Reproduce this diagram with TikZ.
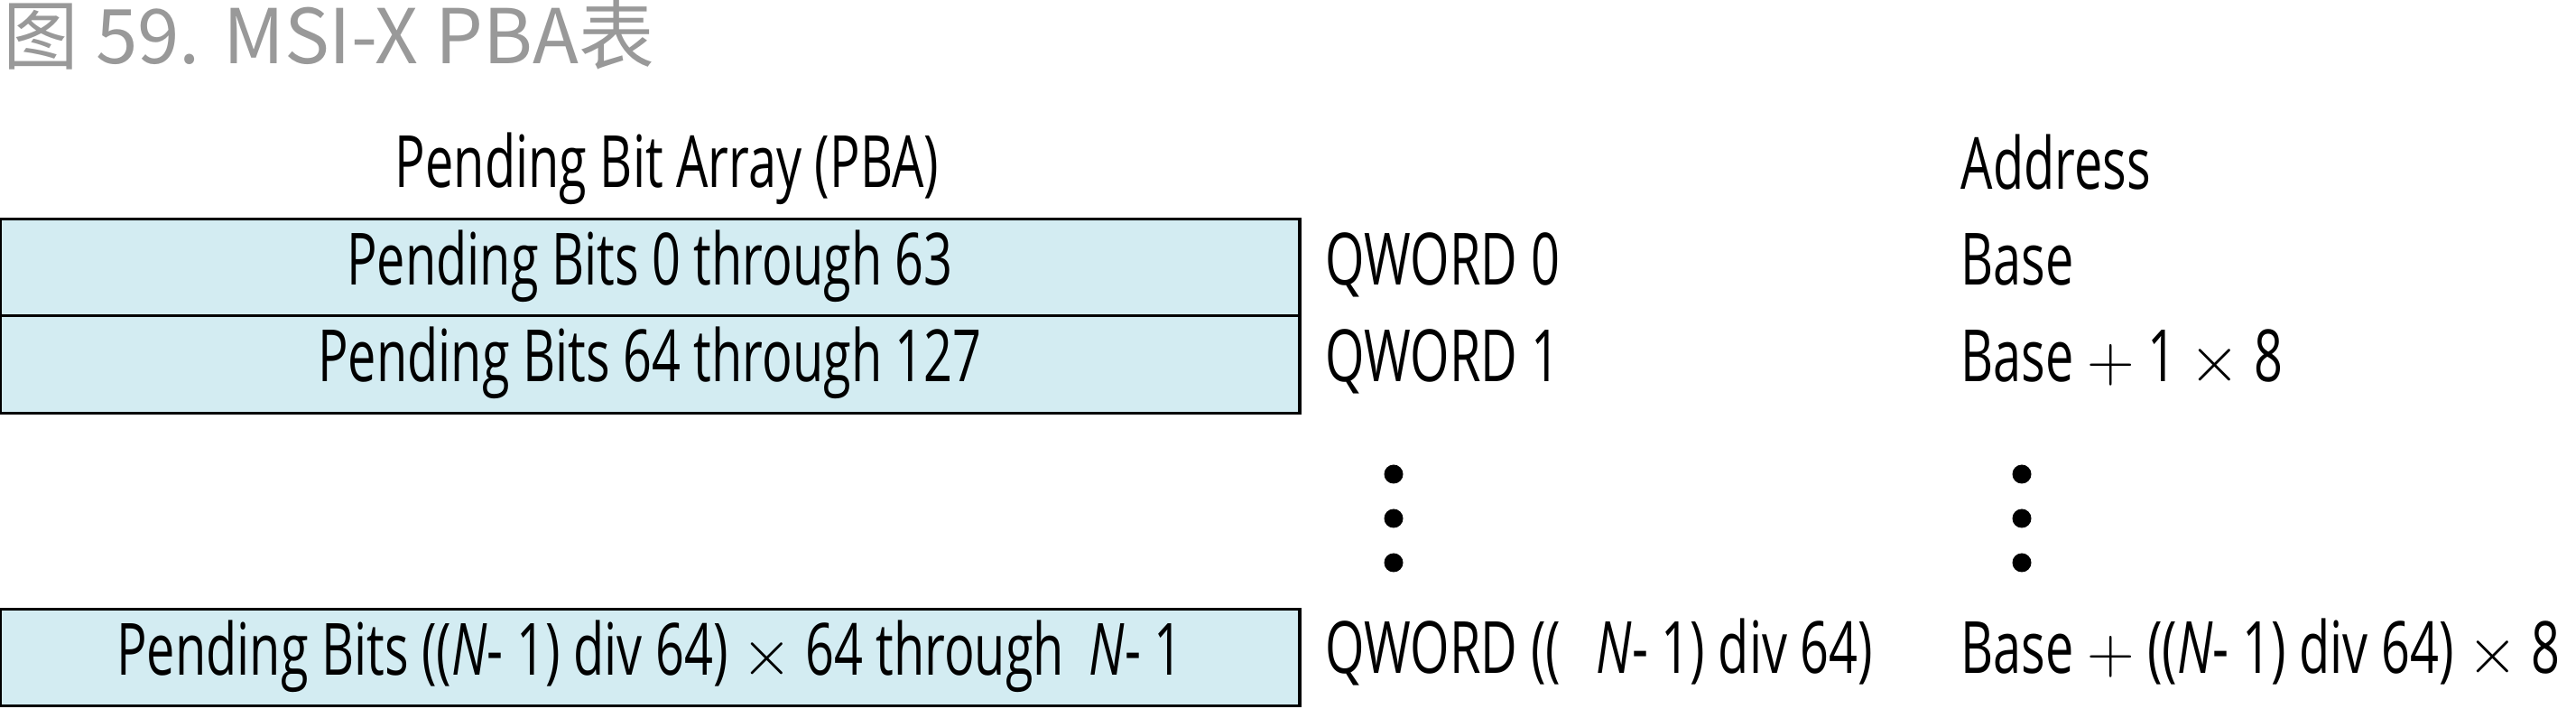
\documentclass[tikz,border=0pt]{standalone}
\usepackage{fontspec}
\setmainfont{Open Sans}[FakeStretch=0.70]
\newfontfamily\cjk{Noto Sans CJK SC}
\definecolor{pbablue}{RGB}{211,236,242}
\definecolor{capgray}{RGB}{153,153,153}
\newcommand{\tms}{\ensuremath{\times}}
\newcommand{\pls}{\ensuremath{+}}
\begin{document}
\begin{tikzpicture}[scale=0.1,
		txt/.style={font=\fontsize{22.7}{27}\selectfont, inner sep=0pt},
		lbl/.style={txt, anchor=base west},
		pbarow/.style={txt, draw=black, fill=pbablue, line width=0.9pt, minimum width=144mm, minimum height=10.75mm, text height=6mm, text depth=2.1mm},
		dot/.style={circle, fill=black, inner sep=0pt, minimum size=2.1mm}]
		
		\useasboundingbox (0,0) rectangle (285.4,-78.5);
		
		\node[anchor=base west, inner sep=0pt, text=capgray, font=\cjk\fontsize{23.8}{28}\selectfont] (cap) at (0.3,-7.1) {图 59. MSI-X PBA表};
		
		\node[txt, anchor=base] (pba) at (73.9,-20.8) {Pending Bit Array (PBA)};
		\node[lbl] (addr) at (217.2,-21.0) {Address};
		
		\node[pbarow] (row0) at (72,-29.6) {Pending Bits 0 through 63};
		\node[pbarow] (row1) at (72,-40.35) {Pending Bits 64 through 127};
		\node[pbarow] (rowN) at (72,-72.8) {Pending Bits ((\textit{N}- 1) div 64) \tms{} 64 through \,\textit{N}- 1};
		
		\node[lbl] (q0) at (146.8,-31.6) {QWORD 0};
		\node[lbl] (q1) at (146.8,-42.3) {QWORD 1};
		\node[lbl] (qN) at (146.8,-74.6) {QWORD ((\enspace\textit{N}- 1) div 64)};
		
		\node[lbl] (a0) at (217.2,-31.6) {Base};
		\node[lbl] (a1) at (217.2,-42.3) {Base \pls{} 1 \tms{} 8};
		\node[lbl] (aN) at (217.2,-74.6) {Base \pls{} ((\textit{N}- 1) div 64) \tms{} 8};
		
		\foreach \i/\y in {1/-52.5, 2/-57.4, 3/-62.3} {
			\node[dot] (dq\i) at (154.4,\y) {};
			\node[dot] (da\i) at (224.0,\y) {};
		}
	\end{tikzpicture}
\end{document}
